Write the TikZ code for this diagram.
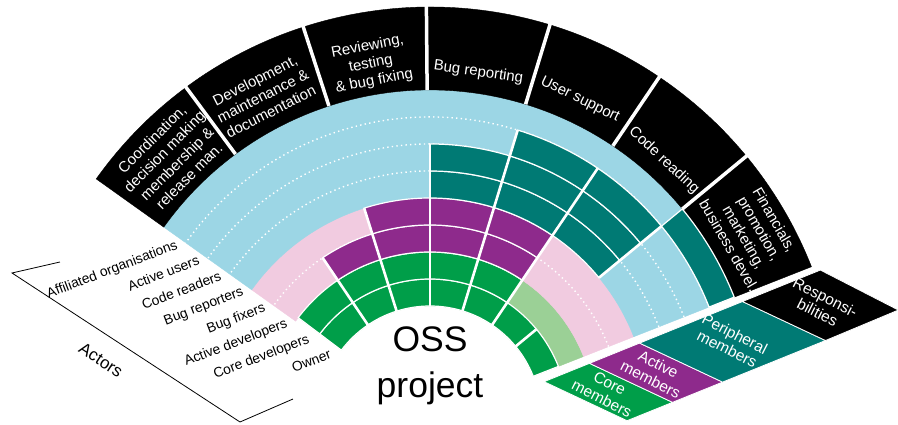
\documentclass[tikz,border=0pt]{standalone}
\usepackage{fontspec}
\setmainfont{Liberation Sans}
\usepackage{tikz}
\usetikzlibrary{calc}
\definecolor{coregreen}{RGB}{0,158,73}
\definecolor{corelight}{RGB}{155,208,150}
\definecolor{activepurple}{RGB}{142,42,140}
\definecolor{activelight}{RGB}{241,203,224}
\definecolor{periteal}{RGB}{0,122,116}
\definecolor{perilight}{RGB}{156,214,229}
% annular piece: style, from angle, to angle, inner radius, outer radius
\newcommand{\ringcell}[5]{\filldraw[#1] ({#2}:{#4}) arc[start angle={#2},end angle={#3},radius={#4}] -- ({#3}:{#5}) arc[start angle={#3},end angle={#2},radius={#5}] -- cycle;}
% rings #4..#5 of one responsibility
\newcommand{\ringcells}[5]{\foreach \i in {#4,...,#5} {\ringcell{#1}{#2}{#3}{84+27*\i}{111+27*\i}}}

\begin{document}
\begin{tikzpicture}[x=1pt, y=1pt, every node/.style={inner sep=0pt},
  cellline/.style={draw=white, line width=1.2pt},
  gapline/.style={white, line width=2.6pt},
  dots/.style={white, line width=1.4pt, dash pattern=on 1.4pt off 3.2pt},
  resp/.style={text=white, align=center, font=\fontsize{15}{17.5}\selectfont},
  actor/.style={anchor=north east, rotate=21, font=\fontsize{13.8}{15}\selectfont},
  legend/.style={text=white, align=center, rotate=-27, font=\fontsize{15.5}{17}\selectfont}]
\useasboundingbox (-430,-8) rectangle (468,417);
% background bands
\ringcell{corelight}{21.5}{143}{111}{165} \ringcell{activelight}{21.5}{144.5}{165}{219} \ringcell{perilight}{21.5}{144.5}{219}{327}
\foreach \r in {192,246,273,300} { \draw[dots] (21.5:\r) arc[start angle=21.5, end angle=144.5, radius=\r]; }
% responsibilities
\ringcell{black}{21.5}{144.5}{327}{410}
\foreach \a in {39.5,56,73,90.5,108,126.5} { \draw[white, line width=3.5pt] (\a:327) -- (\a:413); }
% who does what
\ringcells{coregreen,cellline}{124}{143}{1}{2}
\ringcells{coregreen,cellline}{107.5}{124}{1}{2} \ringcells{activepurple,cellline}{107.5}{124}{3}{3}
\ringcells{coregreen,cellline}{90}{107.5}{1}{2} \ringcells{activepurple,cellline}{90}{107.5}{3}{4}
\ringcells{coregreen,cellline}{73}{90}{1}{2} \ringcells{activepurple,cellline}{73}{90}{3}{4} \ringcells{periteal,cellline}{73}{90}{5}{6}
\ringcells{coregreen,cellline}{56}{73}{1}{2} \ringcells{activepurple,cellline}{56}{73}{3}{4} \ringcells{periteal,cellline}{56}{73}{5}{7}
\ringcells{coregreen,cellline}{39.5}{56}{1}{1} \ringcells{periteal,cellline}{39.5}{56}{5}{7}
\ringcells{coregreen,cellline}{21.5}{39.5}{1}{1} \ringcells{periteal,cellline}{21.5}{39.5}{8}{8}
\foreach \a/\r in {124/192,107.5/219,90/273,73/300,56/300} { \draw[gapline] (\a:111) -- (\a:\r); }
\draw[gapline] (39.5:111) -- (39.5:138); \draw[gapline] (39.5:219) -- (39.5:300);
\node[resp, rotate=45] (coord) at (135:367) {Coordination,\\decision making\\membership \&\\release man.};
\node[resp, rotate=27] (devel) at (117.5:362) {Development,\\maintenance \&\\documentation};
\node[resp, rotate=11] (review) at (99.5:358) {Reviewing,\\testing\\\& bug fixing};
\node[resp, rotate=-8] (bugrep) at (82:348) {Bug reporting};
\node[resp, rotate=-26] (support) at (64.7:351) {User support};
\node[resp, rotate=-43] (coderead) at (47.6:347) {Code reading};
\node[resp, rotate=-60] (finance) at (29.8:371) {Financials,\\promotion,\\marketing,\\business devel.};
% actors
\foreach \i/\t in {1/Owner,2/Core developers,3/Active developers,4/Bug fixers,5/Bug reporters,6/Code readers,7/Active users,8/Affiliated organisations}
  { \node[actor] (actor\i) at ($(144.5:{97.5+27*\i})+(0,-4)$) {\t}; }
\draw[line width=0.8pt] (-370,155) -- (-418,144) -- (-190,-5) -- (-137,18);
\node[rotate=-33, font=\fontsize{17}{19}\selectfont] (actors) at (-329,57) {Actors};
\node[anchor=base, font=\fontsize{35.5}{40}\selectfont] (oss) at (0,65) {OSS};
\node[anchor=base, font=\fontsize{35.5}{40}\selectfont] (project) at (0,19) {project};
% legend strip
\foreach \n/\r in {0/119,1/168,2/222,3/333,4/417} { \coordinate (lg\n) at ($(22:\r)+(-68:10)$); }
\filldraw[coregreen, draw=white, line width=0.8pt] (lg0) -- (lg1) -- ++(83,-39) -- ($(lg0)+(83,-39)$) -- cycle;
\filldraw[activepurple, draw=white, line width=0.8pt] (lg1) -- (lg2) -- ++(83,-39) -- ($(lg1)+(83,-39)$) -- cycle;
\filldraw[periteal, draw=white, line width=0.8pt] (lg2) -- (lg3) -- ++(83,-39) -- ($(lg2)+(83,-39)$) -- cycle;
\filldraw[black, draw=white, line width=0.8pt] (lg3) -- (lg4) -- ++(78,-40) -- ($(lg3)+(83,-39)$) -- cycle;
\node[legend] (core) at ($(lg0)!0.5!(lg1)+(39,-18.5)$) {Core\\members};
\node[legend] (active) at ($(lg1)!0.5!(lg2)+(40,-18.5)$) {Active\\members};
\node[legend] (peri) at ($(lg2)!0.5!(lg3)+(40,-19)$) {Peripheral\\members};
\node[legend] (respons) at ($(lg3)!0.5!(lg4)+(40,-19)$) {Responsi-\\bilities};
\end{tikzpicture}
\end{document}
